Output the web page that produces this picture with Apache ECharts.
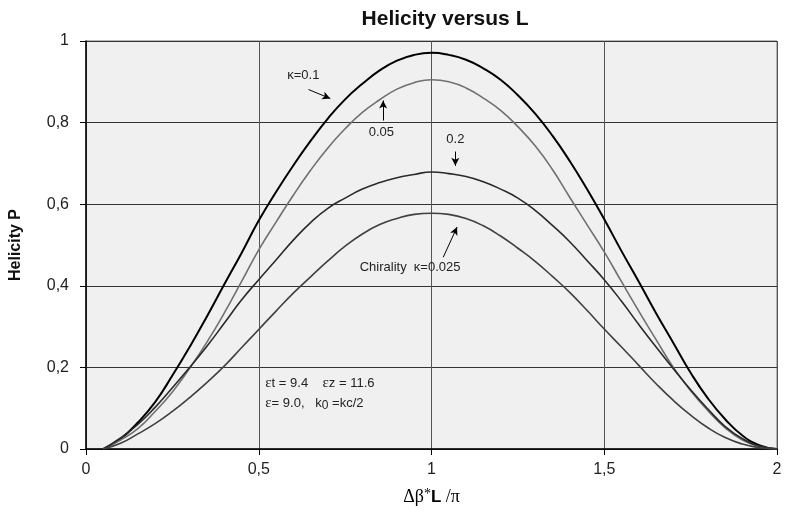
<!DOCTYPE html>
<html>
<head>
<meta charset="utf-8">
<script src="https://cdn.jsdelivr.net/npm/echarts@6/dist/echarts.min.js"></script>
<style>
  html, body { margin: 0; padding: 0; background: #fff; }
  #chart { width: 785px; height: 517px; }
</style>
</head>
<body>
<div id="chart"></div>
<script>
// dL*beta/pi sample positions
const xs = [0.05, 0.1, 0.15, 0.2, 0.25, 0.3, 0.35, 0.4, 0.45, 0.5,
  0.55, 0.6, 0.65, 0.7, 0.75, 0.8, 0.85, 0.9, 0.95, 1.0,
  1.05, 1.1, 1.15, 1.2, 1.25, 1.3, 1.35, 1.4, 1.45, 1.5,
  1.55, 1.6, 1.65, 1.7, 1.75, 1.8, 1.85, 1.9, 1.95, 2.0]

const kappa01 = [0, 0.025, 0.065, 0.115, 0.18, 0.25, 0.325, 0.403, 0.48, 0.56,
  0.63, 0.695, 0.755, 0.81, 0.857, 0.895, 0.928, 0.952, 0.966, 0.971,
  0.966, 0.954, 0.933, 0.905, 0.867, 0.822, 0.768, 0.706, 0.637, 0.563,
  0.485, 0.41, 0.333, 0.26, 0.187, 0.124, 0.073, 0.033, 0.009, 0]

const kappa005 = [0, 0.022, 0.05, 0.092, 0.14, 0.198, 0.262, 0.333, 0.41, 0.488,
  0.556, 0.622, 0.683, 0.738, 0.785, 0.825, 0.856, 0.882, 0.898, 0.905,
  0.9, 0.885, 0.86, 0.83, 0.79, 0.743, 0.685, 0.617, 0.55, 0.483,
  0.41, 0.338, 0.268, 0.2, 0.143, 0.094, 0.052, 0.022, 0.006, 0]

const kappa02 = [0, 0.027, 0.06, 0.102, 0.15, 0.2, 0.252, 0.308, 0.365, 0.415,
  0.463, 0.512, 0.555, 0.59, 0.615, 0.637, 0.653, 0.665, 0.673, 0.679,
  0.675, 0.668, 0.655, 0.637, 0.615, 0.585, 0.548, 0.508, 0.462, 0.415,
  0.362, 0.305, 0.25, 0.197, 0.145, 0.098, 0.055, 0.025, 0.007, 0]

const chirality = [0, 0.014, 0.037, 0.062, 0.092, 0.126, 0.163, 0.203, 0.248, 0.293,
  0.338, 0.382, 0.422, 0.461, 0.497, 0.527, 0.55, 0.565, 0.575, 0.578,
  0.575, 0.565, 0.547, 0.522, 0.492, 0.46, 0.423, 0.384, 0.34, 0.294,
  0.25, 0.205, 0.16, 0.119, 0.083, 0.052, 0.028, 0.012, 0.003, 0]

// annotation arrows, [from, to] in data coords
const arrows = [
  [[0.644, 0.881], [0.707, 0.859]],
  [[0.860, 0.805], [0.860, 0.854]],
  [[1.069, 0.729], [1.069, 0.694]],
  [[1.034, 0.470], [1.074, 0.544]]
]

const FONT = 'Liberation Sans'
const comma = v => String(v).replace('.', ',')
const pairs = ys => xs.map((x, i) => [x, ys[i]])

function line(name, ys, color, width) {
  return {
    name, type: 'line', data: pairs(ys), showSymbol: false, smooth: 0.5,
    lineStyle: { color, width }, silent: true, z: 3
  }
}

const chart = echarts.init(document.getElementById('chart'))

const arrowSeries = {
  type: 'line', data: [], silent: true,
  markLine: {
    silent: true,
    symbol: ['none', 'arrow'],
    symbolSize: [6, 8],
    label: { show: false },
    lineStyle: { color: '#000', width: 1, type: 'solid' },
    data: arrows.map(a => [{ coord: a[0] }, { coord: a[1] }])
  }
}

chart.setOption({
  animation: false,
  title: {
    text: 'Helicity versus L', left: 440, top: 4, textAlign: 'center',
    textStyle: { fontFamily: FONT, fontSize: 21, fontWeight: 'bold', color: '#111' }
  },
  grid: {
    left: 86, right: 8, top: 41, bottom: 68, outerBoundsMode: 'none', containLabel: false,
    show: true, backgroundColor: '#f0f0f0', borderColor: '#777', borderWidth: 1
  },
  xAxis: {
    type: 'value', min: 0, max: 2, interval: 0.5,
    name: '{a|Δβ}{s|*}{b|L}{a| /π}', nameLocation: 'middle', nameGap: 38,
    nameTextStyle: {
      rich: {
        a: { fontFamily: 'Liberation Serif', fontSize: 18, color: '#000' },
        s: { fontFamily: 'Liberation Serif', fontSize: 14, color: '#000', verticalAlign: 'top', padding: [0, 0, 7, 0] },
        b: { fontFamily: 'Liberation Sans', fontSize: 17, fontWeight: 'bold', color: '#000' }
      }
    },
    axisLine: { show: true, lineStyle: { color: '#000', width: 1.5 } },
    axisTick: { show: true, length: 6, lineStyle: { color: '#000' } },
    axisLabel: { fontFamily: FONT, fontSize: 16, color: '#222', margin: 13, formatter: comma },
    splitLine: { show: true, lineStyle: { color: '#555', width: 1 } }
  },
  yAxis: {
    type: 'value', min: 0, max: 1, interval: 0.2,
    name: 'Helicity P', nameLocation: 'middle', nameGap: 62,
    nameTextStyle: { fontFamily: FONT, fontSize: 16, fontWeight: 'bold', color: '#111' },
    axisLine: { show: true, lineStyle: { color: '#000', width: 1.5 } },
    axisTick: { show: true, length: 6, lineStyle: { color: '#000' } },
    axisLabel: { fontFamily: FONT, fontSize: 16, color: '#222', margin: 17, formatter: comma },
    splitLine: { show: true, lineStyle: { color: '#333', width: 1 } }
  },
  series: [
    line('κ=0.1', kappa01, '#000000', 2),
    line('0.05', kappa005, '#707070', 1.6),
    line('0.2', kappa02, '#2a2a2a', 1.6),
    line('Chirality κ=0.025', chirality, '#404040', 1.6),
    arrowSeries
  ]
})

// annotation texts placed in data coords
const labels = [
  { at: [0.629, 0.916], text: 'κ=0.1', align: 'center' },
  { at: [0.855, 0.775], text: '0.05', align: 'center' },
  { at: [1.069, 0.758], text: '0.2', align: 'center' },
  { at: [0.938, 0.446], text: 'Chirality  κ=0.025', align: 'center' },
  { at: [0.519, 0.161], text: '{e|ε}t = 9.4    {e|ε}z = 11.6', align: 'left' },
  { at: [0.519, 0.112], text: '{e|ε}= 9.0,   k{sub|0} =kc/2', align: 'left' }
]

chart.setOption({
  graphic: labels.map(l => {
    const p = chart.convertToPixel({ gridIndex: 0 }, l.at)
    return {
      type: 'text', x: p[0], y: p[1], silent: true, z: 10,
      style: {
        text: l.text, align: l.align, verticalAlign: 'middle',
        font: '13px "Liberation Sans"', fill: '#222',
        rich: {
          e: { fontFamily: 'Liberation Serif', fontSize: 15, fill: '#222' },
          sub: { fontFamily: FONT, fontSize: 12, fill: '#222', padding: [5, 0, 0, 0] }
        }
      }
    }
  })
})
</script>
</body>
</html>
